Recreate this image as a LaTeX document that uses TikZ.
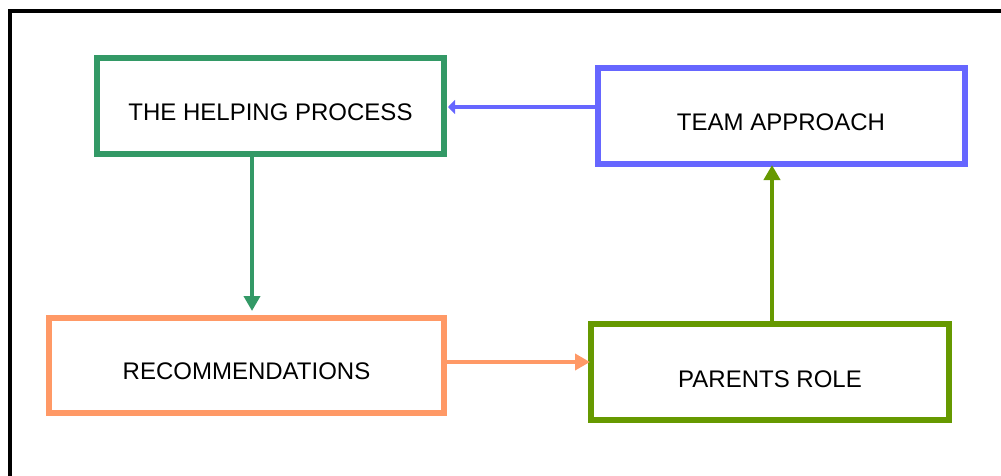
\documentclass[tikz,border=0pt]{standalone}
\usepackage{fontspec}
\setmainfont{Liberation Sans}
\usetikzlibrary{arrows.meta}
\definecolor{cGreen}{HTML}{339966}
\definecolor{cBlue}{HTML}{6666FF}
\definecolor{cOrange}{HTML}{FF9966}
\definecolor{cOlive}{HTML}{669900}
\tikzset{
  stepbox/.style={draw, line width=6pt, rectangle, inner sep=0pt,
    font=\fontsize{24}{28}\selectfont, text height=29pt, text depth=0pt},
  conn/.style={line width=4pt, -{Triangle[width=16pt,length=15pt]}},
}
\begin{document}
\begin{tikzpicture}[x=1pt,y=-1pt]
\useasboundingbox (0,0) rectangle (1001,475);
\clip (0,0) rectangle (1001,475);
\draw[line width=4pt] (10,490) -- (10,11) -- (1015,11);
\node[stepbox, draw=cGreen, minimum width=347pt, minimum height=96pt] (hp) at (270.5,106) {THE HELPING PROCESS};
\node[stepbox, draw=cBlue, minimum width=367pt, minimum height=96pt] (team) at (781,116) {TEAM APPROACH};
\node[stepbox, draw=cOrange, minimum width=395pt, minimum height=95pt, text height=28pt] (rec) at (246.5,365.5) {RECOMMENDATIONS};
\node[stepbox, draw=cOlive, minimum width=358pt, minimum height=96pt, text height=30pt] (par) at (770,372) {PARENTS ROLE};
\draw[conn, cGreen] ([xshift=-18.5pt]hp.south) -- ([xshift=5.5pt,yshift=4pt]rec.north);
\draw[line width=4pt, cBlue, -{Triangle[width=14pt,length=7pt]}] ([yshift=9pt]team.west) -- ([yshift=-1pt,xshift=1pt]hp.east);
\draw[conn, cOlive] ([xshift=2pt]par.north) -- ([xshift=-9pt,yshift=2pt]team.south);
\draw[conn, cOrange] ([yshift=3.5pt]rec.east) -- ([yshift=10pt,xshift=2pt]par.west);
\end{tikzpicture}
\end{document}
